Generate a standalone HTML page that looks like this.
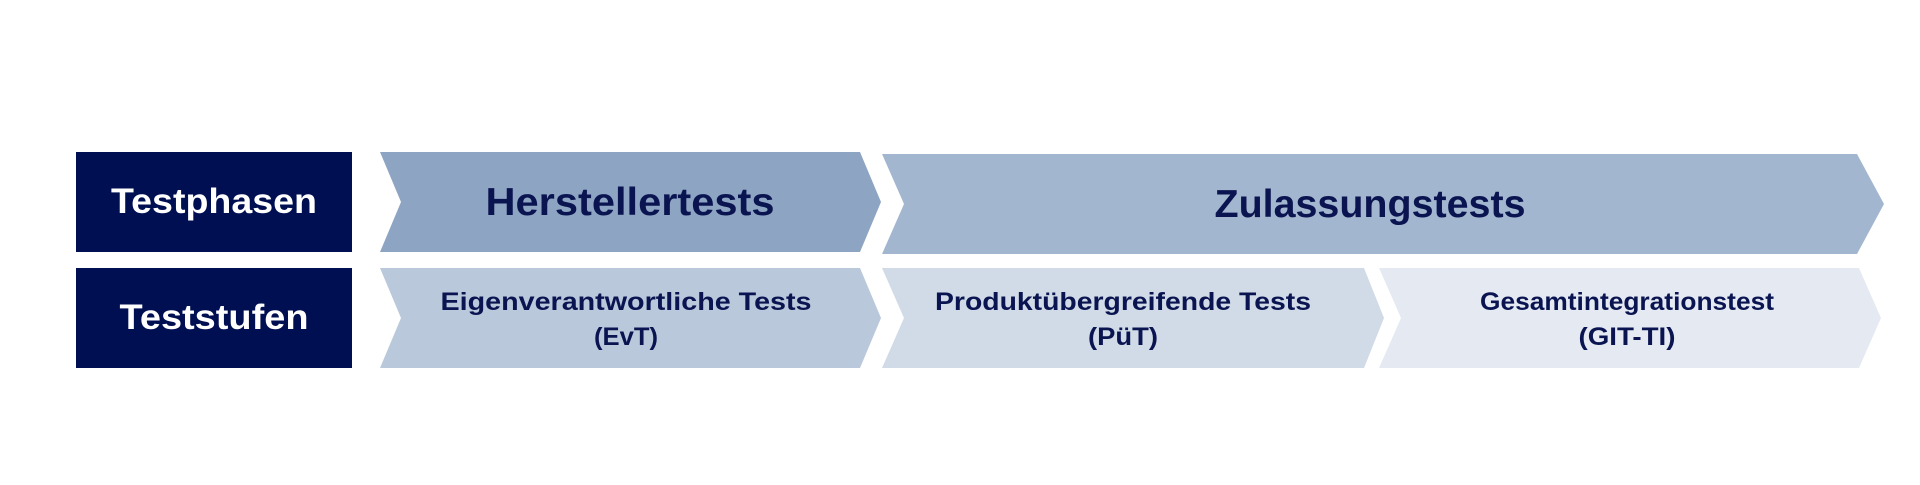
<!DOCTYPE html>
<html><head><meta charset="utf-8"><style>
html,body{margin:0;padding:0;background:#fff;width:1920px;height:485px;overflow:hidden}
text{font-family:"Liberation Sans",sans-serif;font-weight:bold;text-anchor:middle}
</style></head><body>
<svg width="1920" height="485" viewBox="0 0 1920 485" xmlns="http://www.w3.org/2000/svg">
<rect x="76" y="152" width="276" height="100" fill="#000f52"/>
<rect x="76" y="268" width="276" height="100" fill="#000f52"/>
<text x="214" y="213" font-size="35" fill="#fff" textLength="206" lengthAdjust="spacingAndGlyphs">Testphasen</text>
<text x="214" y="329" font-size="35" fill="#fff" textLength="189" lengthAdjust="spacingAndGlyphs">Teststufen</text>

<polygon points="380,152 860,152 881,202 860,252 380,252 401,202" fill="#8da5c3"/>
<polygon points="882,154 1857,154 1884,204 1857,254 882,254 904,204" fill="#a3b6cf"/>
<polygon points="380,268 860,268 881,318 860,368 380,368 401,318" fill="#b9c8db"/>
<polygon points="882,268 1364,268 1384,318 1364,368 882,368 904,318" fill="#d0dbe7"/>
<polygon points="1379,268 1859,268 1881,318 1859,368 1379,368 1401,318" fill="#e5eaf2"/>

<g fill="#0a1450">
<text x="630" y="215" font-size="39" textLength="289" lengthAdjust="spacingAndGlyphs">Herstellertests</text>
<text x="1370" y="217" font-size="39" textLength="311" lengthAdjust="spacingAndGlyphs">Zulassungstests</text>
<text x="626" y="310" font-size="25" textLength="371" lengthAdjust="spacingAndGlyphs">Eigenverantwortliche Tests</text>
<text x="626" y="345" font-size="25" textLength="64" lengthAdjust="spacingAndGlyphs">(EvT)</text>
<text x="1123" y="310" font-size="25" textLength="376" lengthAdjust="spacingAndGlyphs">Produktübergreifende Tests</text>
<text x="1123" y="345" font-size="25" textLength="70" lengthAdjust="spacingAndGlyphs">(PüT)</text>
<text x="1627" y="310" font-size="25" textLength="294" lengthAdjust="spacingAndGlyphs">Gesamtintegrationstest</text>
<text x="1627" y="345" font-size="25" textLength="97" lengthAdjust="spacingAndGlyphs">(GIT-TI)</text>
</g>
</svg>
</body></html>
